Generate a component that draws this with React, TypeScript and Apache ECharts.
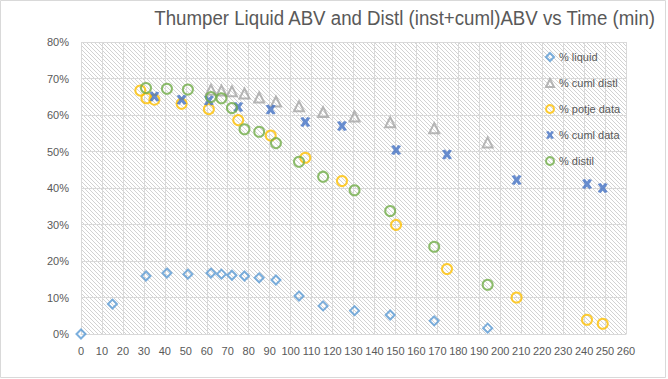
import React, { useEffect, useRef } from "react";
import * as echarts from "echarts";

const titleText = "Thumper Liquid ABV and Distl (inst+cuml)ABV vs Time (min)";

const liquidX = [0, 15, 31, 41, 51, 62, 67, 72, 78, 85, 93, 104, 115.5, 130.5, 147.5, 168.5, 194];
const liquidY = [0, 8.2, 15.9, 16.7, 16.4, 16.7, 16.4, 16.1, 15.9, 15.4, 14.8, 10.4, 7.7, 6.4, 5.2, 3.6, 1.6];

const cumlDistlX = [62, 67, 72, 78, 85, 93, 104, 115.5, 130.5, 147.5, 168.5, 194];
const cumlDistlY = [66.9, 66.7, 66.5, 65.9, 64.8, 63.7, 62.4, 60.8, 59.6, 58.0, 56.4, 52.5];

const potjeX = [28.3, 31.2, 35, 48, 61, 75, 90.5, 107, 124.5, 150.3, 174.6, 207.8, 241.4, 248.9];
const potjeY = [66.7, 64.6, 64.2, 63.1, 61.6, 58.6, 54.4, 48.3, 41.9, 29.9, 17.8, 10.0, 3.9, 2.8];

const cumlDataX = [35, 48, 61, 75, 90.5, 107, 124.5, 150.3, 174.6, 207.8, 241.4, 248.9];
const cumlDataY = [65.1, 64.2, 64.0, 62.2, 61.5, 58.1, 57.0, 50.4, 49.2, 42.2, 41.1, 40.0];

const distilX = [31, 41, 51, 62, 67, 72, 78, 85, 93, 104, 115.5, 130.5, 147.5, 168.5, 194];
const distilY = [67.4, 67.2, 67.0, 64.9, 64.6, 61.9, 56.1, 55.4, 52.3, 47.2, 43.1, 39.4, 33.7, 23.9, 13.5];

const seriesNames = ["% liquid", "% cuml distl", "% potje data", "% cuml data", "% distil"];

const xSymbol =
  "path://M0,1 L3,0 L5,2.6 L7,0 L10,1 L7.2,5 L10,9 L7,10 L5,7.4 L3,10 L0,9 L2.8,5 Z";

function zip(xs: number[], ys: number[]) {
  return xs.map((x, i) => [x, ys[i]]);
}

function makeHatch() {
  const c = document.createElement("canvas");
  c.width = 4;
  c.height = 4;
  const ctx = c.getContext("2d")!;
  ctx.fillStyle = "#ffffff";
  ctx.fillRect(0, 0, 4, 4);
  ctx.fillStyle = "#d2d2d2";
  for (let i = 0; i < 4; i++) ctx.fillRect(i, i, 1, 1);
  return c.toDataURL();
}

export default function App() {
  const ref = useRef<HTMLDivElement>(null);
  useEffect(() => {
    if (!ref.current) return;
    const chart = echarts.init(ref.current, undefined, { renderer: "svg" });
    const hatch = {
      image: makeHatch(),
      repeat: "repeat",
      imageWidth: 4,
      imageHeight: 4,
    };
    const labelStyle = {
      color: "#595959",
      fontSize: 11,
      fontFamily: "Liberation Sans, Arial, sans-serif",
    };
    const hollow = (c: string) => ({ color: "transparent", borderColor: c, borderWidth: 2 });
    chart.setOption({
      animation: false,
      backgroundColor: "#ffffff",
      graphic: [
        {
          type: "rect",
          shape: { x: 0.5, y: 0.5, width: 665, height: 377 },
          style: { fill: "none", stroke: "#d9d9d9", lineWidth: 1 },
          silent: true,
          z: -10,
        },
        {
          type: "text",
          x: 655,
          y: 7,
          scaleX: 0.89,
          silent: true,
          style: {
            text: titleText,
            fill: "#595959",
            fontSize: 21,
            fontFamily: "Liberation Sans, Arial, sans-serif",
            textAlign: "right",
            textVerticalAlign: "top",
          },
        },
      ],
      legend: {
        orient: "vertical",
        left: 540,
        top: 45,
        itemWidth: 8,
        itemHeight: 8,
        itemGap: 12,
        textStyle: { ...labelStyle, lineHeight: 14, fontSize: 11 },
        data: seriesNames,
      },
      grid: {
        left: 81,
        right: 42,
        top: 42,
        bottom: 45,
        show: true,
        backgroundColor: hatch,
        borderWidth: 0,
      },
      xAxis: {
        type: "value",
        min: 0,
        max: 260,
        interval: 10,
        axisLine: { show: true, lineStyle: { color: "#d9d9d9" } },
        axisTick: { show: false },
        axisLabel: { ...labelStyle, margin: 11 },
        splitLine: { show: true, lineStyle: { color: "#d9d9d9", width: 1 } },
      },
      yAxis: {
        type: "value",
        min: 0,
        max: 80,
        interval: 10,
        axisLine: { show: false },
        axisTick: { show: false },
        axisLabel: { ...labelStyle, margin: 12, formatter: "{value}%" },
        splitLine: { show: true, lineStyle: { color: "#d9d9d9", width: 1 } },
      },
      series: [
        {
          name: seriesNames[0],
          type: "scatter",
          symbol: "diamond",
          symbolSize: 9,
          itemStyle: hollow("#5B9BD5"),
          data: zip(liquidX, liquidY),
        },
        {
          name: seriesNames[1],
          type: "scatter",
          symbol: "triangle",
          symbolSize: 10,
          itemStyle: hollow("#A5A5A5"),
          data: zip(cumlDistlX, cumlDistlY),
        },
        {
          name: seriesNames[2],
          type: "scatter",
          symbol: "circle",
          symbolSize: 10,
          itemStyle: hollow("#FFC000"),
          data: zip(potjeX, potjeY),
        },
        {
          name: seriesNames[3],
          type: "scatter",
          symbol: xSymbol,
          symbolSize: 10,
          itemStyle: { color: "#4472C4" },
          data: zip(cumlDataX, cumlDataY),
        },
        {
          name: seriesNames[4],
          type: "scatter",
          symbol: "circle",
          symbolSize: 10,
          itemStyle: hollow("#70AD47"),
          data: zip(distilX, distilY),
        },
      ],
    });
    return () => chart.dispose();
  }, []);
  return (
    <div
      ref={ref}
      style={{ position: "fixed", left: 0, top: 0, width: 668, height: 379 }}
    />
  );
}
